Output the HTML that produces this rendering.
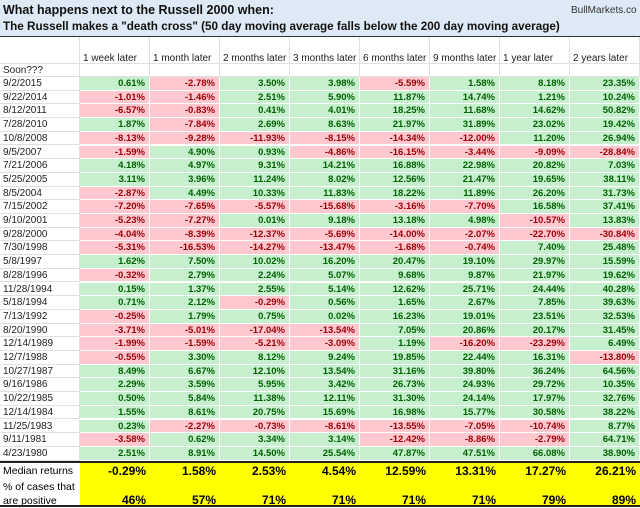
<!DOCTYPE html>
<html><head><meta charset="utf-8"><style>
body{margin:0;width:640px;height:508px;background:#fff;font-family:"Liberation Sans",sans-serif;overflow:hidden;position:relative}
.c{position:absolute;box-sizing:border-box;font-size:9.5px;white-space:nowrap;overflow:hidden}
.v{text-align:right;padding-right:4px;font-weight:bold;border-right:1px solid #fff;border-bottom:1px solid #fff}
.g{background:#c6efce;color:#006100}.r{background:#ffc7ce;color:#9c0006}
.d{padding-left:3px;color:#222;border-bottom:1px solid #e0e0e0;border-right:1px solid #e0e0e0;font-size:10px}
</style></head><body>
<div style="position:absolute;left:0;top:0;width:640px;height:36px;background:#dde9f5;border-bottom:1px solid #333"></div>
<div style="position:absolute;left:3px;top:3px;font-size:12.5px;font-weight:bold;color:#111">What happens next to the Russell 2000 when:</div>
<div style="position:absolute;left:3px;top:20px;font-size:11.7px;font-weight:bold;color:#111">The Russell makes a "death cross" (50 day moving average falls below the 200 day moving average)</div>
<div style="position:absolute;left:571px;top:5px;font-size:10px;color:#333">BullMarkets.co</div>
<div id="t"></div>
<script>
const headers=["1 week later","1 month later","2 months later","3 months later","6 months later","9 months later","1 year later","2 years later"];
const dates=["9/2/2015","9/22/2014","8/12/2011","7/28/2010","10/8/2008","9/5/2007","7/21/2006","5/25/2005","8/5/2004","7/15/2002","9/10/2001","9/28/2000","7/30/1998","5/8/1997","8/28/1996","11/28/1994","5/18/1994","7/13/1992","8/20/1990","12/14/1989","12/7/1988","10/27/1987","9/16/1986","10/22/1985","12/14/1984","11/25/1983","9/11/1981","4/23/1980"];
const values=[
[0.61,-2.78,3.50,3.98,-5.59,1.58,8.18,23.35],
[-1.01,-1.46,2.51,5.90,11.87,14.74,1.21,10.24],
[-6.57,-0.83,0.41,4.01,18.25,11.68,14.62,50.82],
[1.87,-7.84,2.69,8.63,21.97,31.89,23.02,19.42],
[-8.13,-9.28,-11.93,-8.15,-14.34,-12.00,11.20,26.94],
[-1.59,4.90,0.93,-4.86,-16.15,-3.44,-9.09,-28.84],
[4.18,4.97,9.31,14.21,16.88,22.98,20.82,7.03],
[3.11,3.96,11.24,8.02,12.56,21.47,19.65,38.11],
[-2.87,4.49,10.33,11.83,18.22,11.89,26.20,31.73],
[-7.20,-7.65,-5.57,-15.68,-3.16,-7.70,16.58,37.41],
[-5.23,-7.27,0.01,9.18,13.18,4.98,-10.57,13.83],
[-4.04,-8.39,-12.37,-5.69,-14.00,-2.07,-22.70,-30.84],
[-5.31,-16.53,-14.27,-13.47,-1.68,-0.74,7.40,25.48],
[1.62,7.50,10.02,16.20,20.47,19.10,29.97,15.59],
[-0.32,2.79,2.24,5.07,9.68,9.87,21.97,19.62],
[0.15,1.37,2.55,5.14,12.62,25.71,24.44,40.28],
[0.71,2.12,-0.29,0.56,1.65,2.67,7.85,39.63],
[-0.25,1.79,0.75,0.02,16.23,19.01,23.51,32.53],
[-3.71,-5.01,-17.04,-13.54,7.05,20.86,20.17,31.45],
[-1.99,-1.59,-5.21,-3.09,1.19,-16.20,-23.29,6.49],
[-0.55,3.30,8.12,9.24,19.85,22.44,16.31,-13.80],
[8.49,6.67,12.10,13.54,31.16,39.80,36.24,64.56],
[2.29,3.59,5.95,3.42,26.73,24.93,29.72,10.35],
[0.50,5.84,11.38,12.11,31.30,24.14,17.97,32.76],
[1.55,8.61,20.75,15.69,16.98,15.77,30.58,38.22],
[0.23,-2.27,-0.73,-8.61,-13.55,-7.05,-10.74,8.77],
[-3.58,0.62,3.34,3.14,-12.42,-8.86,-2.79,64.71],
[2.51,8.91,14.50,25.54,47.87,47.51,66.08,38.90]];
const medians=[-0.29,1.58,2.53,4.54,12.59,13.31,17.27,26.21];
const positives=[46,57,71,71,71,71,79,89];
const t=document.getElementById('t');
const X0=80,CW=70,Y0=77,RH=13.7;
function cell(x,y,w,h,cls,txt){const d=document.createElement('div');d.className='c '+cls;d.style.left=x+'px';d.style.top=y+'px';d.style.width=w+'px';d.style.height=h+'px';d.style.lineHeight=h+'px';d.textContent=txt;t.appendChild(d);return d;}
let e=cell(0,37,80,27,'d','');
headers.forEach((h,i)=>{const d=cell(X0+i*CW,37,CW,27,'d',h);d.style.paddingTop='8px';d.style.fontSize='10px';

});
e=cell(0,64,80,13,'d','Soon???');


for(let i=0;i<8;i++){const d=cell(X0+i*CW,64,CW,13,'d','');

}
dates.forEach((dt,r)=>{const y=Y0+r*RH;const d=cell(0,y,80,RH,'d',dt);


values[r].forEach((v,i)=>{const c=cell(X0+i*CW,y,CW,RH,'v '+(v<0?'r':'g'),v.toFixed(2)+'%');

});});
const yb=Y0+dates.length*RH;
const line=document.createElement('div');line.style.cssText='position:absolute;left:0;width:640px;height:2px;background:#222;top:'+yb+'px';


t.appendChild(line);
const yel=document.createElement('div');yel.style.cssText='position:absolute;left:80px;width:560px;background:#ffff00;top:'+(yb+2)+'px;height:'+(505-yb-2)+'px';


t.appendChild(yel);
e=cell(0,yb+2,80,16,'','Median returns');e.style.paddingLeft='3px';e.style.fontSize='10.5px';


e=cell(0,yb+19,80,28,'','');e.style.paddingLeft='3px';e.style.fontSize='10.5px';e.style.lineHeight='14px';e.style.whiteSpace='normal';e.textContent='% of cases that are positive';


medians.forEach((m,i)=>{const c=cell(X0+i*CW,yb+2,CW,16,'',m.toFixed(2)+'%');c.style.textAlign='right';c.style.paddingRight='4px';c.style.fontWeight='bold';c.style.fontSize='12px';

});
positives.forEach((p,i)=>{const c=cell(X0+i*CW,yb+31,CW,16,'',p+'%');c.style.textAlign='right';c.style.paddingRight='4px';c.style.fontWeight='bold';c.style.fontSize='12px';

});
const bl=document.createElement('div');bl.style.cssText='position:absolute;left:0;width:640px;height:2px;background:#222;top:505px';


t.appendChild(bl);
</script>
</body></html>
